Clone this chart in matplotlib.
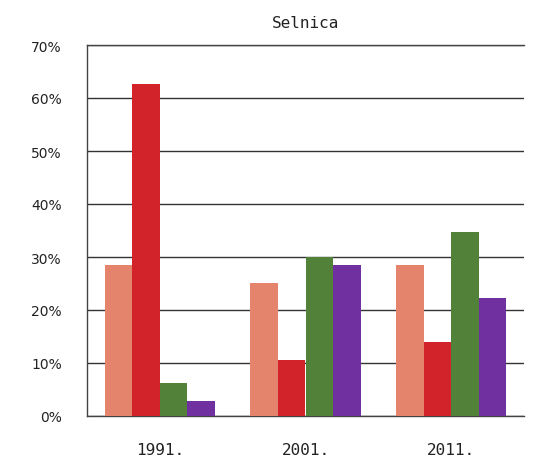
import matplotlib
matplotlib.use("Agg")
import matplotlib.pyplot as plt
import numpy as np

years = ["1991.", "2001.", "2011."]
series_colors = ["#E5846C", "#D2232A", "#52823A", "#7030A0"]
s1 = [28.5, 25.1, 28.5]
s2 = [62.6, 10.6, 14.0]
s3 = [6.2, 30.0, 34.7]
s4 = [2.8, 28.5, 22.3]
series = [s1, s2, s3, s4]

plt.rcParams['font.family'] = ['DejaVu Sans Mono']
fig = plt.figure(figsize=(5.4, 4.6), dpi=100)
ax = fig.add_axes([87/540, 1-417/460, (524-87)/540, (417-46)/460])

x = np.arange(len(years))
w = 0.189
for i, (vals, c) in enumerate(zip(series, series_colors)):
    ax.bar(x + (i - 1.5) * w, vals, width=w, color=c, zorder=3)

ax.set_xlim(-0.5, 2.5)
ax.set_ylim(0, 70)
ax.set_yticks(range(0, 71, 10))
ax.set_yticklabels([f"{v}%" for v in range(0, 71, 10)], fontsize=10,
                   family='DejaVu Sans', color='#222222')
ax.set_xticks(x)
ax.set_xticklabels(years, fontsize=11.5, color='#222222')
ax.tick_params(axis='x', length=0, pad=19)
ax.tick_params(axis='y', length=0, pad=18)
ax.yaxis.grid(True, color='#333333', linewidth=1.0, zorder=0)
ax.spines['right'].set_visible(False)
for s in ['top', 'bottom', 'left']:
    ax.spines[s].set_color('#444444')
    ax.spines[s].set_linewidth(1.0)
ax.set_title("Selnica", fontsize=11.5, pad=13, color='#222222')

fig.savefig("out.png", dpi=100)
